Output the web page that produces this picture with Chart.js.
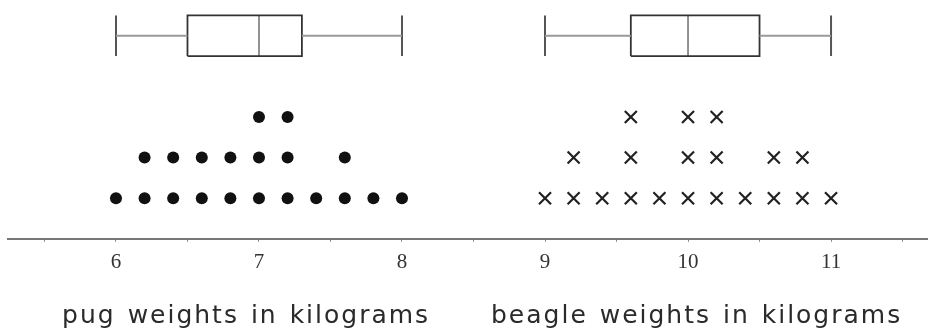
<!DOCTYPE html>
<html>
<head>
<meta charset="utf-8">
<script src="https://cdn.jsdelivr.net/npm/chart.js@4"></script>
<style>
  html, body { margin: 0; padding: 0; background: #fff; }
  #wrap { width: 928px; height: 331px; position: relative; }
</style>
</head>
<body>
<div id="wrap"><canvas id="myChart"></canvas></div>
<script>
// dot plot values (each entry is one dog)
const pugWeights = [6, 6.2, 6.2, 6.4, 6.4, 6.6, 6.6, 6.8, 6.8, 7, 7, 7, 7.2, 7.2, 7.2, 7.4, 7.6, 7.6, 7.8, 8];
const beagleWeights = [9, 9.2, 9.2, 9.4, 9.6, 9.6, 9.6, 9.8, 10, 10, 10, 10.2, 10.2, 10.2, 10.4, 10.6, 10.6, 10.8, 10.8, 11];

// box plot summaries: min, Q1, median, Q3, max
const pugBox = [6, 6.5, 7, 7.3, 8];
const beagleBox = [9, 9.6, 10, 10.5, 11];

// axis ticks
const tickValues = [5.5, 6, 6.5, 7, 7.5, 8, 8.5, 9, 9.5, 10, 10.5, 11, 11.5];
const tickLabels = { 6: "6", 7: "7", 8: "8", 9: "9", 10: "10", 11: "11" };

const groupTitles = ["pug weights in kilograms", "beagle weights in kilograms"];
const titleCenters = [6.91, 10.06];

const BOX_Y = 5;
const BOX_H = 0.5;

// stack repeated values into rows
function stackDots(values) {
  const seen = {};
  return values.map(v => {
    seen[v] = (seen[v] || 0) + 1;
    return { x: v, y: seen[v] };
  });
}

function whiskers(b) {
  return [{ x: b[0], y: BOX_Y }, { x: b[1], y: BOX_Y }, { x: b[1], y: null },
          { x: b[3], y: BOX_Y }, { x: b[4], y: BOX_Y }, { x: b[4], y: null }];
}
function caps(b) {
  return [{ x: b[0], y: BOX_Y - BOX_H }, { x: b[0], y: BOX_Y + BOX_H }, { x: b[0], y: null },
          { x: b[4], y: BOX_Y - BOX_H }, { x: b[4], y: BOX_Y + BOX_H }, { x: b[4], y: null }];
}
function boxOutline(b) {
  return [{ x: b[1], y: BOX_Y - BOX_H }, { x: b[3], y: BOX_Y - BOX_H }, { x: b[3], y: BOX_Y + BOX_H },
          { x: b[1], y: BOX_Y + BOX_H }, { x: b[1], y: BOX_Y - BOX_H }, { x: b[1], y: null }];
}
function medianLine(b) {
  return [{ x: b[2], y: BOX_Y - BOX_H }, { x: b[2], y: BOX_Y + BOX_H }, { x: b[2], y: null }];
}

const lineDs = (data, color, width) => ({
  data: data,
  showLine: true,
  spanGaps: false,
  borderColor: color,
  borderWidth: width,
  pointRadius: 0,
  fill: false,
  borderJoinStyle: "miter",
});

const titlePlugin = {
  id: "groupTitles",
  afterDraw(chart) {
    const ctx = chart.ctx;
    const xs = chart.scales.x;
    ctx.save();
    ctx.font = "25px 'DejaVu Sans'";
    ctx.letterSpacing = "2px";
    ctx.wordSpacing = "2px";
    ctx.fillStyle = "#2a2a2a";
    ctx.textAlign = "center";
    ctx.textBaseline = "alphabetic";
    groupTitles.forEach((t, i) => {
      ctx.fillText(t, xs.getPixelForValue(titleCenters[i]), 323);
    });
    ctx.restore();
  },
};

new Chart(document.getElementById("myChart"), {
  type: "scatter",
  data: {
    datasets: [
      lineDs(whiskers(pugBox).concat(whiskers(beagleBox)), "#9a9a9a", 2),
      lineDs(caps(pugBox).concat(caps(beagleBox)), "#555", 2),
      lineDs(boxOutline(pugBox).concat(boxOutline(beagleBox)), "#333", 1.8),
      lineDs(medianLine(pugBox).concat(medianLine(beagleBox)), "#777", 1.6),
      {
        data: stackDots(pugWeights),
        pointStyle: "circle",
        pointRadius: 6,
        backgroundColor: "#111",
        borderColor: "#111",
        borderWidth: 0,
      },
      {
        data: stackDots(beagleWeights),
        pointStyle: "crossRot",
        pointRadius: 8.5,
        borderColor: "#222",
        borderWidth: 2.2,
      },
    ],
  },
  options: {
    responsive: true,
    maintainAspectRatio: false,
    animation: false,
    layout: { autoPadding: false, padding: { left: 8, right: 0, top: 0, bottom: 48 } },
    plugins: {
      legend: { display: false },
      tooltip: { enabled: false },
    },
    scales: {
      x: {
        type: "linear",
        min: 5.245,
        max: 11.678,
        afterBuildTicks: (s) => { s.ticks = tickValues.map(v => ({ value: v })); },
        border: { display: true, color: "#777", width: 2 },
        grid: { display: true, drawOnChartArea: false, drawTicks: true, tickLength: 3, color: "#888" },
        ticks: {
          autoSkip: false,
          maxRotation: 0,
          padding: 8,
          color: "#333",
          font: { family: "'Liberation Serif'", size: 21 },
          callback: (v) => tickLabels[v] || "",
        },
      },
      y: {
        display: false,
        min: 0,
        max: 5.88,
      },
    },
  },
  plugins: [titlePlugin],
});
</script>
</body>
</html>
